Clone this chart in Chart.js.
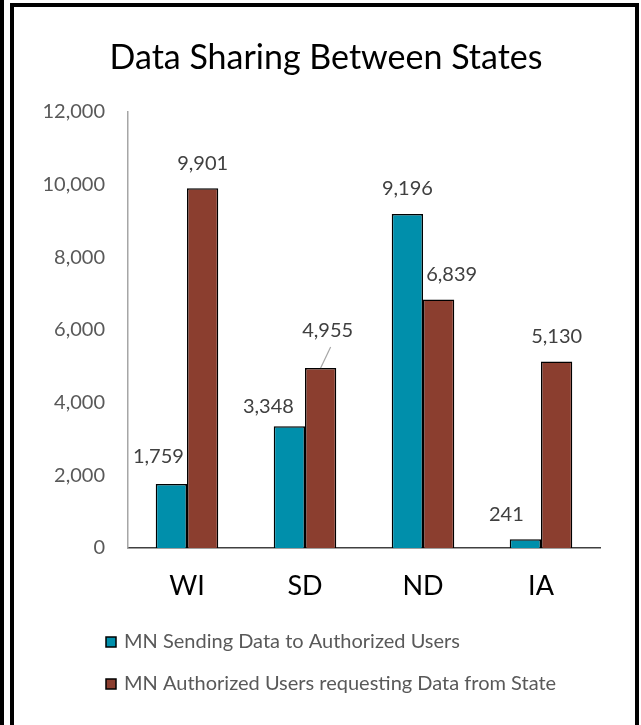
<!DOCTYPE html>
<html>
<head>
<meta charset="utf-8">
<script src="https://cdn.jsdelivr.net/npm/chart.js@4.4.1/dist/chart.umd.min.js"></script>
<style>
  html, body { margin: 0; padding: 0; background: #fff; }
  #wrap { position: relative; width: 641px; height: 725px; }
</style>
</head>
<body>
<div id="wrap"><canvas id="chart" width="641" height="725"></canvas></div>
<script>
// chart data
const categories = ["WI", "SD", "ND", "IA"];
const sendingValues = [1759, 3348, 9196, 241];
const requestingValues = [9901, 4955, 6839, 5130];
const seriesNames = [
    "MN Sending Data to Authorized Users",
    "MN Authorized Users requesting Data from State"
];
const yTicks = [0, 2000, 4000, 6000, 8000, 10000, 12000];

const TEAL = "#008fab";
const BROWN = "#8b3e2f";
const FONT = "Lato, 'Open Sans', sans-serif";

// label nudges (dx, dy in px) matching the hand-placed labels of the original
const LABEL_NUDGE = [
    [[-13, -3], [-21, 5], [0, 0], [-19, 0]],
    [[0, 0], [7, -12], [13, 0], [0, 0]]
];

const fmt = (v) => v.toLocaleString("en-US");

const framePlugin = {
    id: "frame",
    beforeDraw(chart) {
        const ctx = chart.ctx;
        ctx.save();
        ctx.fillStyle = "#000";
        ctx.fillRect(0, 0, 4, chart.height);
        ctx.strokeStyle = "#000";
        ctx.lineWidth = 4;
        ctx.strokeRect(12, 5, 625, 730);
        ctx.restore();
    }
};

const titlePlugin = {
    id: "customTitle",
    afterDraw(chart) {
        const ctx = chart.ctx;
        ctx.save();
        ctx.fillStyle = "#000";
        ctx.font = `34px ${FONT}`;
        ctx.textAlign = "center";
        ctx.textBaseline = "alphabetic";
        ctx.fillText("Data Sharing Between States", 326, 69);
        ctx.restore();
    }
};

const valueLabelPlugin = {
    id: "valueLabels",
    afterDatasetsDraw(chart) {
        const ctx = chart.ctx;
        ctx.save();
        ctx.font = `20px ${FONT}`;
        ctx.fillStyle = "#404040";
        ctx.textAlign = "center";
        ctx.textBaseline = "middle";
        chart.data.datasets.forEach((ds, di) => {
            const meta = chart.getDatasetMeta(di);
            meta.data.forEach((bar, i) => {
                const [dx, dy] = LABEL_NUDGE[di][i];
                const x = bar.x + dx;
                const y = bar.y - 25 + dy;
                ctx.fillText(fmt(ds.data[i]), x, y);
                if (dy < -8) {
                    // leader line for a pulled-away label
                    ctx.strokeStyle = "#a6a6a6";
                    ctx.lineWidth = 1.2;
                    ctx.beginPath();
                    ctx.moveTo(x + 3, y + 16);
                    ctx.lineTo(bar.x, bar.y);
                    ctx.stroke();
                }
            });
        });
        ctx.restore();
    }
};

const legendPlugin = {
    id: "customLegend",
    afterDraw(chart) {
        const ctx = chart.ctx;
        ctx.save();
        ctx.font = `20px ${FONT}`;
        ctx.textBaseline = "middle";
        chart.data.datasets.forEach((ds, di) => {
            const y = 642 + di * 42;
            ctx.fillStyle = ds.backgroundColor;
            ctx.fillRect(106, y - 5, 10, 10);
            ctx.strokeStyle = "#000";
            ctx.lineWidth = 1.5;
            ctx.strokeRect(106, y - 5, 10, 10);
            ctx.fillStyle = "#595959";
            ctx.fillText(ds.label, 124, y);
        });
        ctx.restore();
    }
};

new Chart(document.getElementById("chart"), {
    type: "bar",
    data: {
        labels: categories,
        datasets: [
            {
                label: seriesNames[0],
                data: sendingValues,
                backgroundColor: TEAL,
                borderColor: "#000",
                borderWidth: 1.5,
                borderSkipped: "bottom",
                barPercentage: 1,
                categoryPercentage: 0.53
            },
            {
                label: seriesNames[1],
                data: requestingValues,
                backgroundColor: BROWN,
                borderColor: "#000",
                borderWidth: 1.5,
                borderSkipped: "bottom",
                barPercentage: 1,
                categoryPercentage: 0.53
            }
        ]
    },
    options: {
        responsive: false,
        animation: false,
        layout: { padding: { top: 112, right: 41, left: 0, bottom: 0 } },
        plugins: {
            legend: { display: false },
            title: { display: false },
            tooltip: { enabled: false }
        },
        scales: {
            x: {
                grid: { display: false, drawTicks: false },
                border: { display: true, color: "#404040", width: 1.5 },
                ticks: {
                    color: "#000",
                    font: { family: FONT, size: 27 },
                    padding: 22
                },
                afterFit: (scale) => { scale.height = 177; }
            },
            y: {
                min: 0,
                max: 12000,
                afterBuildTicks: (scale) => {
                    scale.ticks = yTicks.map((v) => ({ value: v }));
                },
                grid: { display: false, drawTicks: false },
                border: { display: true, color: "#a6a6a6", width: 1.5 },
                ticks: {
                    color: "#595959",
                    font: { family: FONT, size: 20 },
                    padding: 23,
                    callback: (v) => fmt(v)
                },
                afterFit: (scale) => { scale.width = 128; }
            }
        }
    },
    plugins: [framePlugin, titlePlugin, valueLabelPlugin, legendPlugin]
});
</script>
</body>
</html>
